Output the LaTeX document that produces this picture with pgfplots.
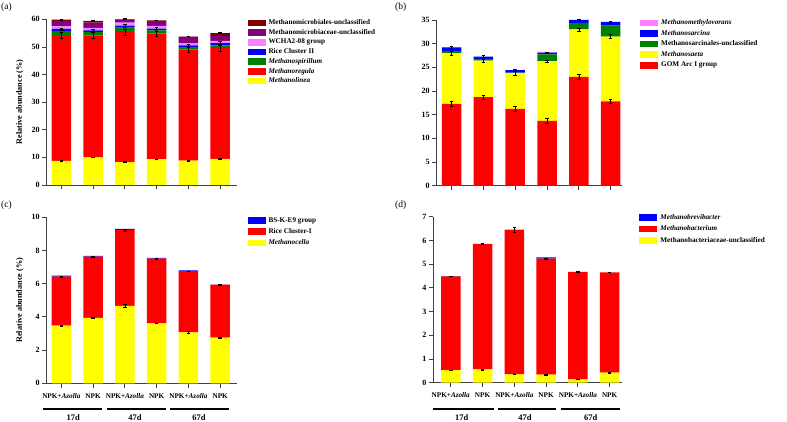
\documentclass[border=0pt]{standalone}
\usepackage{fontspec}
\setmainfont{Liberation Serif}
\usepackage{pgfplots}
\usepackage{pgfplotstable}
\pgfplotsset{compat=1.18}

\definecolor{cyel}{RGB}{255,255,0}
\definecolor{cred}{RGB}{255,0,0}
\definecolor{cgreen}{RGB}{0,128,0}
\definecolor{cblue}{RGB}{0,0,255}
\definecolor{cpink}{RGB}{255,128,255}
\definecolor{cpurple}{RGB}{128,0,128}
\definecolor{cdred}{RGB}{128,0,0}

\pgfplotstableread{
x yel yelE red redE gre blu bluE pin pur dre dreE
0 8.7 0.15 45.6 1.0 1.4 0.8 0.4 0.9 2.0 0.5 0.2
1 10.0 0.1 44.2 1.0 1.2 0.6 0.4 0.9 1.9 0.6 0.2
2 8.3 0.15 47.1 1.0 1.6 0.7 0.4 1.1 1.1 0.2 0.2
3 9.4 0.1 45.4 0.9 1.2 0.6 0.4 1.0 1.7 0.3 0.15
4 8.8 0.1 40.2 0.8 0.9 0.7 0.4 0.8 2.2 0.15 0.1
5 9.5 0.1 40.1 1.0 1.0 0.8 0.5 0.8 1.7 1.1 0.2
}\tA

\pgfplotstableread{
x red redE yel yelE gre blu bluE pin
0 17.3 0.5 10.7 0.5 0.4 0.8 0.3 0.05
1 18.7 0.5 7.7 0.4 0.4 0.45 0.2 0.0
2 16.2 0.5 7.6 0.4 0.1 0.5 0.2 0.0
3 13.7 0.5 12.6 0.3 1.45 0.35 0.15 0.15
4 23.0 0.5 10.0 0.3 1.4 0.6 0.2 0.0
5 17.8 0.4 13.7 0.4 2.3 0.8 0.2 0.0
}\tB

\pgfplotstableread{
x yel yelE red redE blu
0 3.47 0.02 2.96 0.02 0.06
1 3.94 0.02 3.69 0.02 0.04
2 4.66 0.08 4.58 0.06 0.06
3 3.61 0.02 3.90 0.02 0.04
4 3.07 0.04 3.68 0.02 0.06
5 2.75 0.02 3.19 0.02 0.01
}\tC

\pgfplotstableread{
x yel yelE red redE blu
0 0.53 0.01 3.95 0.01 0.01
1 0.56 0.02 5.29 0.01 0.0
2 0.35 0.01 6.10 0.10 0.0
3 0.34 0.01 4.89 0.01 0.05
4 0.14 0.01 4.53 0.01 0.0
5 0.42 0.01 4.23 0.01 0.0
}\tD

\pgfplotsset{
  panel/.style={
    scale only axis, ybar stacked, bar width=19.5pt, clip=false,
    axis x line*=bottom, axis y line*=left,
    axis line style={black!75, line width=0.9pt},
    tick style={black!75, line width=0.8pt},
    tick align=outside, major tick length=4.5pt,
    xtick={0,...,5}, xticklabels={}, ymin=0,
    /pgf/number format/assume math mode=true,
    tick label style={font=\bfseries\fontsize{8}{9}\selectfont},
    yticklabel style={xshift=1pt},
    legend style={draw=none, fill=none, inner sep=0pt, anchor=north west,
      font=\bfseries\fontsize{7.2}{8}\selectfont,
      nodes={inner sep=0pt, text height=5pt, text depth=1.5pt},
      /tikz/every odd column/.append style={column sep=3pt},
      cells={anchor=west}},
    legend image code/.code={\fill[##1] (0pt,-3.3pt) rectangle (18pt,3.3pt);},
    reverse legend,
    error bars/error bar style={black, line width=0.5pt},
    error bars/error mark options={rotate=90, mark size=1.8pt, black, line width=0.5pt},
  },
  eb/.style={error bars/.cd, y dir=both, y explicit},
  grp/.style={xticklabels={NPK+\textit{Azolla},NPK,NPK+\textit{Azolla},NPK,NPK+\textit{Azolla},NPK},
    xticklabel style={yshift=-2pt, font=\bfseries\fontsize{7.2}{8}\selectfont}},
}

\begin{document}
\begin{tikzpicture}[x=1pt,y=1pt]
\useasboundingbox (0,0) rectangle (787,422);

% (a)
\begin{axis}[panel, at={(46.7pt,237pt)}, anchor=south west, width=190pt, height=165.7pt,
  xmin=-0.46, xmax=5.52, ymax=60, ytick={0,10,...,60},
  legend style={at={(1.056,1.0)}, row sep=3.1pt}]
\addplot[fill=cyel, draw=none, eb] table[x=x, y=yel, y error=yelE] {\tA};
\addlegendentry{\textit{Methanolinea}}
\addplot[fill=cred, draw=none, eb] table[x=x, y=red, y error=redE] {\tA};
\addlegendentry{\textit{Methanoregula}}
\addplot[fill=cgreen, draw=none] table[x=x, y=gre] {\tA};
\addlegendentry{\textit{Methanospirillum}}
\addplot[fill=cblue, draw=none, eb] table[x=x, y=blu, y error=bluE] {\tA};
\addlegendentry{Rice Cluster II}
\addplot[fill=cpink, draw=none] table[x=x, y=pin] {\tA};
\addlegendentry{WCHA2-08 group}
\addplot[fill=cpurple, draw=none] table[x=x, y=pur] {\tA};
\addlegendentry{Methanomicrobiaceae-unclassified}
\addplot[fill=cdred, draw=none, eb] table[x=x, y=dre, y error=dreE] {\tA};
\addlegendentry{Methanomicrobiales-unclassified}
\end{axis}

% (b)
\begin{axis}[panel, at={(436.7pt,236.3pt)}, anchor=south west, width=185pt, height=165.7pt,
  xmin=-0.47, xmax=5.35, ymax=35, ytick={0,5,...,35},
  legend style={at={(1.099,1.004)}, row sep=4pt}]
\addplot[fill=cred, draw=none, eb] table[x=x, y=red, y error=redE] {\tB};
\addlegendentry{GOM Arc I group}
\addplot[fill=cyel, draw=none, eb] table[x=x, y=yel, y error=yelE] {\tB};
\addlegendentry{\textit{Methanosaeta}}
\addplot[fill=cgreen, draw=none] table[x=x, y=gre] {\tB};
\addlegendentry{Methanosarcinales-unclassified}
\addplot[fill=cblue, draw=none, eb] table[x=x, y=blu, y error=bluE] {\tB};
\addlegendentry{\textit{Methanosarcina}}
\addplot[fill=cpink, draw=none] table[x=x, y=pin] {\tB};
\addlegendentry{\textit{Methanomethylovorans}}
\end{axis}

% (c)
\begin{axis}[panel, grp, at={(46.7pt,38.7pt)}, anchor=south west, width=190pt, height=166pt,
  xmin=-0.46, xmax=5.52, ymax=10, ytick={0,2,...,10},
  legend style={at={(1.056,1.002)}, row sep=4.6pt}]
\addplot[fill=cyel, draw=none, eb] table[x=x, y=yel, y error=yelE] {\tC};
\addlegendentry{\textit{Methanocella}}
\addplot[fill=cred, draw=none, eb] table[x=x, y=red, y error=redE] {\tC};
\addlegendentry{Rice Cluster-I}
\addplot[fill=cblue, draw=none] table[x=x, y=blu] {\tC};
\addlegendentry{BS-K-E9 group}
\end{axis}

% (d)
\begin{axis}[panel, grp, at={(433.3pt,39.3pt)}, anchor=south west, width=188.4pt, height=166pt,
  xmin=-0.55, xmax=5.38, ymax=7, ytick={0,1,...,7},
  legend style={at={(1.093,1.016)}, row sep=4.8pt}]
\addplot[fill=cyel, draw=none, eb] table[x=x, y=yel, y error=yelE] {\tD};
\addlegendentry{Methanobacteriaceae-unclassified}
\addplot[fill=cred, draw=none, eb] table[x=x, y=red, y error=redE] {\tD};
\addlegendentry{\textit{Methanobacterium}}
\addplot[fill=cblue, draw=none] table[x=x, y=blu] {\tD};
\addlegendentry{\textit{Methanobrevibacter}}
\end{axis}

% y labels
\node[rotate=90, font=\bfseries\fontsize{8.2}{9}\selectfont] at (20,320) {Relative abundance (\%)};
\node[rotate=90, font=\bfseries\fontsize{8.2}{9}\selectfont] at (20,121.7) {Relative abundance (\%)};

% panel letters
\node[font=\fontsize{9.5}{11}\selectfont, anchor=west, inner sep=0pt] at (1,415) {(a)};
\node[font=\fontsize{9.5}{11}\selectfont, anchor=west, inner sep=0pt] at (395,415) {(b)};
\node[font=\fontsize{9.5}{11}\selectfont, anchor=west, inner sep=0pt] at (1,217) {(c)};
\node[font=\fontsize{9.5}{11}\selectfont, anchor=west, inner sep=0pt] at (395,217) {(d)};

% group lines and labels
\begin{scope}[line width=1.7pt]
\draw (43.3,13) -- (102.3,13);
\draw (107.3,13) -- (165.7,13);
\draw (170,13) -- (229.3,13);
\draw (433.3,13) -- (494,13);
\draw (498.3,13) -- (556,13);
\draw (560.7,13) -- (620,13);
\end{scope}
\begin{scope}[every node/.style={font=\bfseries\fontsize{8.5}{9}\selectfont, inner sep=0pt}]
\node at (73.3,4) {17d};
\node at (135,4) {47d};
\node at (199,4) {67d};
\node at (461.7,4) {17d};
\node at (525,4) {47d};
\node at (590.8,4) {67d};
\end{scope}
\end{tikzpicture}
\end{document}
